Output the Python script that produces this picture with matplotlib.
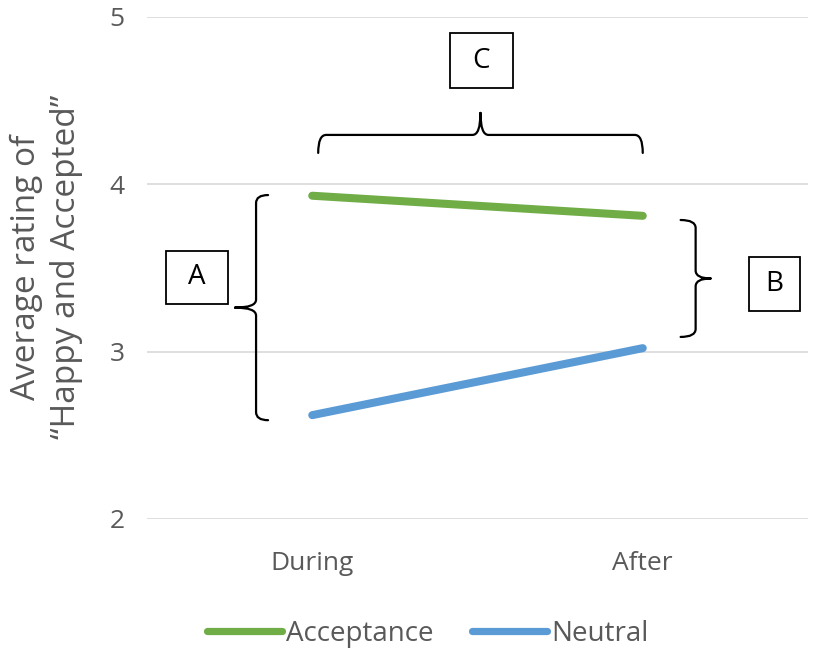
import matplotlib
matplotlib.use("Agg")
import matplotlib.pyplot as plt
from matplotlib.path import Path
from matplotlib.patches import PathPatch, Rectangle
from matplotlib.lines import Line2D
import numpy as np

plt.rcParams['font.family'] = ['Open Sans', 'DejaVu Sans']

# ---- data ----
categories = ["During", "After"]
acceptance = [3.93, 3.81]
neutral = [2.62, 3.02]
series_names = ["Acceptance", "Neutral"]
series_colors = ["#70AD47", "#5B9BD5"]
y_ticks = [2, 3, 4, 5]
y_label = "Average rating of\n\u201cHappy and Accepted\u201d"
box_labels = ["A", "B", "C"]

GRAY = "#595959"

fig = plt.figure(figsize=(8.13, 6.53), dpi=100)
ax = fig.add_axes([147/813, 1-519/653, 661/813, (519-16.5)/653])

x = np.arange(len(categories))
for vals, name, col in zip([acceptance, neutral], series_names, series_colors):
    ax.plot(x, vals, color=col, lw=5.8, solid_capstyle='round', label=name, zorder=3)

ax.set_xlim(-0.5, 1.5)
ax.set_ylim(2, 5)
ax.set_yticks(y_ticks)
ax.set_xticks(x)
ax.set_xticklabels(categories)
ax.tick_params(axis='both', length=0, colors=GRAY, labelsize=19)
ax.tick_params(axis='y', pad=16)
ax.tick_params(axis='x', pad=23)
for s in ax.spines.values():
    s.set_visible(False)
ax.grid(axis='y', color='#D9D9D9', lw=1.2)
ax.set_axisbelow(True)
fig.text(46/813, 1 - 267/653, y_label, rotation=90, ha='center', va='center',
         fontsize=24, color=GRAY, linespacing=1.28, multialignment='center')


def brace(ax, a, b, pos, orient, sign, hook_px, tip_px, r_px=8, lw=1.6):
    """Curly brace from a to b along the given axis at position pos.
    orient 'v': spans y=a..b at x=pos; tip points toward sign*x.
    orient 'h': spans x=a..b at y=pos; tip points toward sign*y."""
    T = ax.transData
    if orient == 'v':
        p0 = T.transform((pos, a)); p1 = T.transform((pos, b))
        s0, s1, c = p0[1], p1[1], p0[0]
        def mk(u, v):
            return (c + sign * v, u)
    else:
        p0 = T.transform((a, pos)); p1 = T.transform((b, pos))
        s0, s1, c = p0[0], p1[0], p0[1]
        def mk(u, v):
            return (u, c + sign * v)
    lo, hi = min(s0, s1), max(s0, s1)
    m = (lo + hi) / 2
    r = r_px
    verts = [mk(lo, -hook_px), mk(lo, 0), mk(lo + r, 0),
             mk(m - r, 0), mk(m, 0), mk(m, tip_px),
             mk(m, tip_px), mk(m, 0), mk(m + r, 0),
             mk(hi - r, 0), mk(hi, 0), mk(hi, -hook_px)]
    codes = [Path.MOVETO, Path.CURVE3, Path.CURVE3,
             Path.LINETO, Path.CURVE3, Path.CURVE3,
             Path.MOVETO, Path.CURVE3, Path.CURVE3,
             Path.LINETO, Path.CURVE3, Path.CURVE3]
    dverts = T.inverted().transform(np.array(verts))
    ax.add_patch(PathPatch(Path(dverts, codes), fill=False, ec='black', lw=lw,
                           clip_on=False, zorder=4, capstyle='round'))

# brace A: spans During values, tip to the left
brace(ax, 2.59, 3.934, -0.17, 'v', -1, hook_px=12, tip_px=21)
# brace B: spans After values, tip to the right
brace(ax, 3.087, 3.785, 1.16, 'v', 1, hook_px=15, tip_px=15)
# brace C: spans During..After, tip upward
brace(ax, 0.018, 1.0, 4.293, 'h', 1, hook_px=18, tip_px=22)

# label boxes (x0, x1, y0, y1 in data units)
boxes = [(-0.442, -0.2545, 3.282, 3.602),
         (1.321, 1.476, 3.242, 3.566),
         (0.418, 0.606, 4.571, 4.900)]
for lab, (x0, x1, y0, y1) in zip(box_labels, boxes):
    ax.add_patch(Rectangle((x0, y0), x1 - x0, y1 - y0, fill=False, ec='black',
                           lw=1.3, clip_on=False, zorder=4))
    ax.text((x0 + x1) / 2, (y0 + y1) / 2, lab, ha='center', va='center',
            fontsize=20, color='black', zorder=5, clip_on=False)

handles = [Line2D([], [], color=c, lw=5.2, solid_capstyle='round') for c in series_colors]
leg = fig.legend(handles, series_names, loc='center', bbox_to_anchor=(0.526, 1 - 634/653),
                 ncol=2, frameon=False, fontsize=20, handlelength=2.7,
                 handletextpad=0.15, columnspacing=1.4, labelcolor=GRAY)

fig.savefig("out.png", dpi=100)
